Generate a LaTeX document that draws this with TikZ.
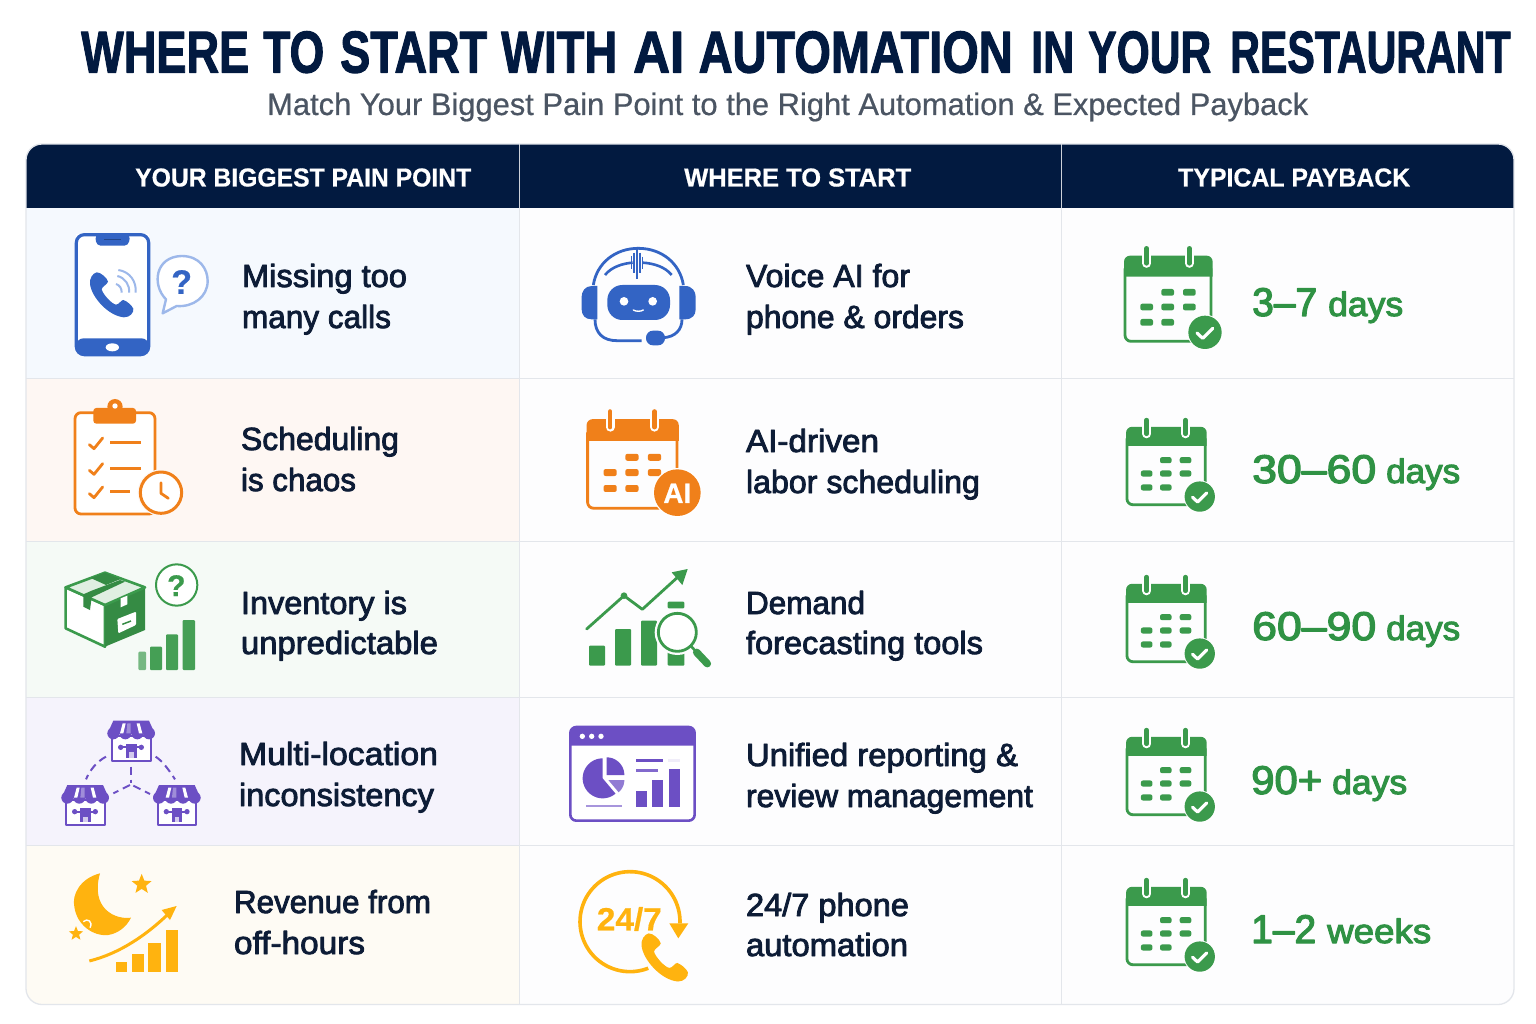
\documentclass[tikz,border=0pt]{standalone}
\usepackage{graphicx}
\usepackage{fontspec}
\usetikzlibrary{shapes.geometric}
\setmainfont{Liberation Sans}
\newfontfamily\subf[FakeBold=0.6]{Liberation Sans}
\newfontfamily\bodyf[FakeBold=2.6]{Liberation Sans}
\newfontfamily\numf[FakeBold=3]{Liberation Sans}
\newfontfamily\headf[FakeBold=0.6]{Liberation Sans Bold}
\newfontfamily\titlef[FakeBold=2]{Liberation Sans Bold}
\definecolor{navy}{HTML}{021A40}
\definecolor{ink}{HTML}{0D1C36}
\definecolor{subgray}{HTML}{4B5563}
\definecolor{rule}{HTML}{E3E6EB}
\definecolor{cellbg}{HTML}{FDFDFE}
\definecolor{rowa}{HTML}{F5F9FE}
\definecolor{rowb}{HTML}{FEF7F3}
\definecolor{rowc}{HTML}{F5FAF6}
\definecolor{rowd}{HTML}{F5F3FC}
\definecolor{rowe}{HTML}{FEFBF4}
\definecolor{cblue}{HTML}{3364C4}
\definecolor{cbluel}{HTML}{9DB8EA}
\definecolor{corange}{HTML}{F0801A}
\definecolor{cgreen}{HTML}{3B9A4C}
\definecolor{tgreen}{HTML}{2F9244}
\definecolor{cpurple}{HTML}{6C4FC4}
\definecolor{cyellow}{HTML}{FFB30F}
\tikzset{
  txt/.style={anchor=base west,inner sep=0pt,outer sep=0pt,font=\bodyf\fontsize{32}{32}\selectfont,text=ink},
  headtxt/.style={anchor=base west,inner sep=0pt,font=\headf\fontsize{26}{26}\selectfont,text=white},
  numtxt/.style={anchor=base west,inner sep=0pt,font=\numf\fontsize{40}{40}\selectfont,text=tgreen},
  unittxt/.style={anchor=base west,inner sep=0pt,font=\numf\fontsize{34}{34}\selectfont,text=tgreen},
  tablerule/.style={draw=rule,line width=1.3pt},
  shopdash/.style={cpurple,line width=2pt,dash pattern=on 8pt off 5pt},
}
\newcommand{\fitw}[2]{\resizebox{#1pt}{\height}{#2}}
\newcommand{\tword}[3]{\fitw{#1}{#2}\hspace*{#3pt}}
\newcommand{\rowtext}[5]{\node[txt] (#1) at (#2,#3) {\fitw{#4}{#5}};}
\newcommand{\pay}[8]{%
  \node[numtxt] (#1n) at (#2,#3) {\fitw{#4}{#5}};
  \node[unittxt] (#1u) at (#6,#3) {\fitw{#7}{#8}};}
% handset, in the coordinates of the phone icon
\newcommand{\handset}[1]{%
  \fill[#1] (200,187) .. controls (188,190) and (178,205) .. (180,222)
    .. controls (185,262) and (235,318) .. (282,322)
    .. controls (300,322) and (312,308) .. (310,296)
    .. controls (305,285) and (290,273) .. (280,270)
    .. controls (272,270) and (268,284) .. (258,284)
    .. controls (245,282) and (218,252) .. (215,238)
    .. controls (215,230) and (232,224) .. (234,215)
    .. controls (232,205) and (212,186) .. (200,187) -- cycle;}
% calendar, in the coordinates of the first green calendar
\newcommand{\calbody}[1]{%
  \fill[cellbg,rounded corners=6pt] (42,62) rectangle (306,322);
  \draw[#1,line width=2.8pt,rounded corners=6pt] (45,100) -- (45,319) -- (303,319) -- (303,100);
  \fill[#1] (42,125) [rounded corners=6pt] -- (42,62) -- (308,62) [sharp corners] -- (308,125) -- cycle;
  \foreach \rx in {110,238} {
    \draw[white,line width=9pt,line cap=round] (\rx,60) -- (\rx,85);
    \draw[#1,line width=4.6pt,line cap=round] (\rx,40) -- (\rx,85);
  }
  \foreach \cx/\cy in {173/172,238/172,110/216,173/216,238/216,110/262,173/262} {
    \fill[#1,rounded corners=2pt] (\cx-19,\cy-10) rectangle (\cx+19,\cy+10);
  }}
\newcommand{\calcheck}{%
  \fill[white] (285,292) circle[radius=53];
  \fill[cgreen] (285,292) circle[radius=50];
  \draw[white,line width=3.2pt,line cap=round,line join=round] (261,294) -- (278,310) -- (308,280);}
\newcommand{\greencal}[3]{\begin{scope}[shift={(#1,#2)},scale=#3/3]\calbody{cgreen}\calcheck\end{scope}}
% storefront, local size 143 x 121
\newcommand{\storeicon}[2]{%
  \begin{scope}[shift={(#1,#2)}]
    \draw[cpurple,line width=2.3pt,fill=white] (14,45) rectangle (130,120);
    \fill[cpurple] (18,0) -- (125,0) -- (143,40) -- (0,40) -- cycle;
    \foreach \lx/\lw in {18/18,54/18,90/18,125/18} {\fill[cpurple] (\lx,38) circle[radius=\lw];}
    \fill[white] (46,8) -- (55,8) -- (48,38) -- (38,38) -- cycle;
    \fill[white] (88,8) -- (97,8) -- (105,38) -- (95,38) -- cycle;
    \fill[white!35!cpurple] (60,8) -- (70,8) -- (70,38) -- (57,38) -- cycle;
    \draw[cpurple,line width=2.2pt] (42,80) -- (100,80);
    \fill[cpurple] (40,80) circle[radius=8] (102,80) circle[radius=8];
    \fill[cpurple] (56,70) rectangle (88,112);
    \fill[white!70!cpurple] (65,95) rectangle (79,112);
  \end{scope}}
\begin{document}
\begin{tikzpicture}[x=1pt,y=-1pt,line join=round]
\useasboundingbox (0,0) rectangle (1536,1024);
\fill[white] (0,0) rectangle (1536,1024);
% ---- titles
\node[anchor=base west,inner sep=0pt,text=navy,font=\titlef\fontsize{59}{59}\selectfont] (title) at (81,72.5)
  {\tword{168}{WHERE}{14}\tword{61}{TO}{16}\tword{147}{START}{14}\tword{116}{WITH}{16}\tword{51}{AI}{14.5}\tword{314}{AUTOMATION}{18.5}\tword{43}{IN}{14}\tword{123}{YOUR}{19}\fitw{280.5}{RESTAURANT}};
\node[anchor=base west,inner sep=0pt,text=subgray,font=\subf\fontsize{31}{31}\selectfont] (subtitle) at (267,115)
  {\fitw{1041}{Match Your Biggest Pain Point to the Right Automation \& Expected Payback}};
% ---- table
\begin{scope}
  \clip[rounded corners=16pt] (26,144) rectangle (1514,1004.5);
  \fill[cellbg] (26,144) rectangle (1514,1005);
  \fill[rowa] (26,208) rectangle (519.5,378);
  \fill[rowb] (26,378) rectangle (519.5,541);
  \fill[rowc] (26,541) rectangle (519.5,697);
  \fill[rowd] (26,697) rectangle (519.5,845);
  \fill[rowe] (26,845) rectangle (519.5,1005);
  \fill[navy] (26,144) rectangle (1514,208);
  \foreach \ry in {378.5,541.5,697.5,845.5} {\draw[tablerule] (26,\ry) -- (1514,\ry);}
  \foreach \cx in {519.5,1061.5} {
    \draw[tablerule] (\cx,208) -- (\cx,1005);
    \draw[white!80!navy,line width=1pt] (\cx,144) -- (\cx,208);
  }
\end{scope}
\draw[tablerule,rounded corners=16pt] (26,144) rectangle (1514,1004.5);
% ---- header text
\node[headtxt] (h1) at (135,186.5) {\fitw{336}{YOUR BIGGEST PAIN POINT}};
\node[headtxt] (h2) at (684,186.5) {\fitw{227}{WHERE TO START}};
\node[headtxt] (h3) at (1178,186.5) {\fitw{232}{TYPICAL PAYBACK}};
% ---- column 1 text
\rowtext{a1}{242}{287}{165}{Missing too}
\rowtext{a2}{242}{328}{149}{many calls}
\rowtext{b1}{241}{450}{158}{Scheduling}
\rowtext{b2}{241}{491}{115}{is chaos}
\rowtext{c1}{241}{614}{166}{Inventory is}
\rowtext{c2}{241}{654}{197}{unpredictable}
\rowtext{d1}{239}{765}{199}{Multi-location}
\rowtext{d2}{239}{806}{195}{inconsistency}
\rowtext{e1}{234}{913}{197}{Revenue from}
\rowtext{e2}{234}{954}{131}{off-hours}
% ---- column 2 text
\rowtext{f1}{746}{287}{164}{Voice AI for}
\rowtext{f2}{746}{328}{218}{phone \& orders}
\rowtext{g1}{746}{452}{133}{AI-driven}
\rowtext{g2}{746}{493}{234}{labor scheduling}
\rowtext{h1b}{746}{614}{119}{Demand}
\rowtext{h2b}{746}{654}{237}{forecasting tools}
\rowtext{i1}{746}{766}{272}{Unified reporting \&}
\rowtext{i2}{746}{807}{287}{review management}
\rowtext{j1}{746}{916}{163}{24/7 phone}
\rowtext{j2}{746}{956}{162}{automation}
% ---- payback
\pay{p1}{1252}{316}{65}{3–7}{1328}{75}{days}
\pay{p2}{1252}{483}{124}{30–60}{1386}{74}{days}
\pay{p3}{1252}{640}{124}{60–90}{1386}{74}{days}
\pay{p4}{1251}{794}{71}{90+}{1332}{75}{days}
\pay{p5}{1251}{943}{65}{1–2}{1327}{104}{weeks}
% ---- green calendars
\greencal{1110}{235}{1}
\greencal{1113.3}{408}{0.91}
\greencal{1113.3}{565}{0.91}
\greencal{1113.3}{718}{0.91}
\greencal{1113.3}{868}{0.91}
% ---- icons of rows 1 and 2, left
\begin{scope}[shift={(30,210)},scale=1/3]
  \fill[white] (138,73) rectangle (357,400);
  \draw[cblue,line width=3.2pt,rounded corners=8pt] (139,74) rectangle (356,434);
  \fill[cblue,rounded corners=7pt] (139,385) -- (139,434) -- (356,434) -- (356,385) -- cycle;
  \fill[white] (247,412) ellipse[x radius=20,y radius=12];
  \fill[cblue,rounded corners=4pt] (195,74) -- (200,107) -- (295,107) -- (301,74) -- cycle;
  \draw[cblue!70!black,line width=1pt] (222,90) -- (272,90);
  \handset{cblue}
  \foreach \wa/\wb/\wc/\wd/\we/\wf/\wg/\wh in {265/180/300/185/320/215/317/248,262/198/285/203/300/225/297/248,258/222/268/225/276/235/275/248}
    {\draw[cbluel,line width=2pt] (\wa,\wb) .. controls (\wc,\wd) and (\we,\wf) .. (\wg,\wh);}
  \draw[cbluel,line width=2.4pt,fill=white] (398,310) -- (408,268) .. controls (365,225) and (375,140) .. (455,138)
     .. controls (510,138) and (533,178) .. (533,213) .. controls (533,260) and (490,292) .. (440,288) -- cycle;
  \node[inner sep=0pt,text=cblue,font=\headf\fontsize{34}{34}\selectfont] (qa) at (455,216) {?};
  % clipboard
  \fill[white] (135,608) rectangle (375,912);
  \draw[corange,line width=2.8pt,rounded corners=6pt] (135,608) rectangle (375,912);
  \fill[corange] (255,590) circle[radius=23];
  \fill[corange,rounded corners=3pt] (190,594) rectangle (318,641);
  \fill[white] (255,588) circle[radius=8];
  \foreach \ly/\lx in {698/332,775/332,845/300} {
    \draw[corange,line width=2.6pt] (240,\ly) -- (\lx,\ly);
    \draw[corange,line width=2.8pt,line cap=round] (178,\ly+6) -- (192,\ly+18) -- (218,\ly-14);
  }
  \fill[rowb] (393,848) circle[radius=70];
  \draw[corange,line width=3pt,fill=white] (393,848) circle[radius=62];
  \draw[corange,line width=2.8pt,line cap=round] (393,818) -- (393,850) -- (415,865);
\end{scope}
% ---- icons of rows 3 to 5, left
\begin{scope}[shift={(30,545)},scale=1/3]
  % box
  \draw[cgreen,line width=2.6pt,fill=white] (107,127) -- (225,180) -- (225,305) -- (107,250) -- cycle;
  \fill[cgreen!90!black] (225,180) -- (345,127) -- (345,255) -- (225,305) -- cycle;
  \draw[cgreen,line width=2.6pt,fill=cgreen!16!white] (225,83) -- (345,127) -- (225,180) -- (107,127) -- cycle;
  \fill[cgreen!90!black] (182,99) -- (225,83) -- (272,102) -- (228,120) -- cycle;
  \fill[cgreen!90!black] (160,148) -- (185,137) -- (270,105) -- (285,110) -- (185,157) -- (180,195) -- (160,185) -- cycle;
  \fill[white] (272,160) -- (292,152) -- (292,178) -- (272,187) -- cycle;
  \fill[white,rounded corners=1pt] (262,222) -- (318,200) -- (318,240) -- (265,265) -- cycle;
  \draw[cgreen!90!black,line width=1.5pt] (277,238) -- (303,228);
  \draw[cgreen,line width=2pt,fill=white] (440,120) circle[radius=62];
  \node[inner sep=0pt,text=cgreen,font=\headf\fontsize{30}{30}\selectfont] (qc) at (439,122) {?};
  \fill[cgreen!70!white,rounded corners=1pt] (325,320) rectangle (348,375);
  \fill[cgreen!95!white,rounded corners=1pt] (360,305) rectangle (396,375);
  \fill[cgreen!95!white,rounded corners=1pt] (408,268) rectangle (444,375);
  \fill[cgreen!95!white,rounded corners=1pt] (458,225) rectangle (495,375);
  % stores
  \storeicon{232}{527}
  \storeicon{94}{720}
  \storeicon{369}{720}
  \draw[shopdash] (228,635) .. controls (200,650) and (180,675) .. (168,703);
  \draw[shopdash] (377,635) .. controls (400,650) and (420,680) .. (435,703);
  \draw[shopdash] (304,665) -- (304,715);
  \draw[shopdash] (300,720) -- (250,745);
  \draw[shopdash] (310,722) -- (360,747);
  % moon
  \fill[cyellow] (210,985) .. controls (150,1000) and (125,1050) .. (133,1085)
     .. controls (140,1140) and (190,1175) .. (235,1170)
     .. controls (265,1165) and (290,1145) .. (303,1118)
     .. controls (255,1125) and (180,1090) .. (210,985) -- cycle;
  \draw[white,line width=1.4pt] (160,1130) .. controls (172,1118) and (190,1130) .. (180,1148);
  \node[star,star points=5,star point ratio=2.3,fill=cyellow,inner sep=0pt,minimum size=21pt] (s1) at (335,1018) {};
  \node[star,star points=5,star point ratio=2.3,fill=cyellow,inner sep=0pt,minimum size=15pt] (s2) at (138,1166) {};
  \draw[cyellow,line width=3pt] (178,1248) .. controls (270,1225) and (350,1170) .. (420,1102);
  \fill[cyellow] (440,1083) -- (395,1095) -- (420,1125) -- cycle;
  \fill[cyellow] (257,1252) rectangle (292,1282);
  \fill[cyellow] (306,1228) rectangle (342,1282);
  \fill[cyellow] (355,1195) rectangle (392,1282);
  \fill[cyellow] (408,1155) rectangle (445,1282);
\end{scope}
% ---- robot and orange calendar
\begin{scope}[shift={(560,230)},scale=1/3]
  \draw[cblue,line width=2.8pt] (100,165) .. controls (110,100) and (165,55) .. (235,55)
     .. controls (305,55) and (360,100) .. (370,165);
  \draw[cblue,line width=2.6pt] (135,135) .. controls (155,110) and (190,100) .. (218,98);
  \draw[cblue,line width=2.6pt] (248,98) .. controls (280,100) and (315,110) .. (335,135);
  \foreach \wx/\wh in {215/20,222/30,231/48,240/30,248/18} {\draw[cblue,line width=1.3pt] (\wx,98-\wh) -- (\wx,98+\wh);}
  \fill[cblue] (112,168) -- (95,168) .. controls (75,168) and (65,185) .. (65,200) -- (65,238)
     .. controls (65,255) and (75,268) .. (95,268) -- (112,268) -- cycle;
  \fill[cblue] (358,168) -- (375,168) .. controls (397,168) and (407,185) .. (407,200) -- (407,238)
     .. controls (407,255) and (397,268) .. (375,268) -- (358,268) -- cycle;
  \draw[cblue,line width=2.8pt] (105,268) .. controls (105,310) and (130,332) .. (170,332) -- (245,332);
  \draw[cblue,line width=2.8pt] (366,268) .. controls (366,300) and (345,320) .. (312,323);
  \fill[cblue,rounded corners=7pt] (258,302) rectangle (315,346);
  \fill[cblue,rounded corners=15pt] (142,165) rectangle (330,270);
  \fill[white] (192,214) circle[radius=13] (278,214) circle[radius=13];
  \draw[white,line width=1.4pt,line cap=round] (220,240) .. controls (228,245) and (242,245) .. (250,240);
  \begin{scope}[shift={(36,503)},scale=1.04]
    \calbody{corange}
  \end{scope}
  \fill[white] (352,788) circle[radius=74];
  \fill[corange] (352,788) circle[radius=70];
  \node[inner sep=0pt,text=white,font=\headf\fontsize{28}{28}\selectfont] (ai) at (352,790) {AI};
\end{scope}
% ---- chart, dashboard, 24/7
\begin{scope}[shift={(560,555)},scale=1/3]
  \fill[cgreen,rounded corners=1pt] (87,272) rectangle (135,332);
  \fill[cgreen,rounded corners=1pt] (165,222) rectangle (213,332);
  \fill[cgreen,rounded corners=1pt] (243,197) rectangle (291,332);
  \fill[cgreen,rounded corners=1pt] (323,140) rectangle (373,160);
  \fill[cgreen,rounded corners=1pt] (323,280) rectangle (373,332);
  \draw[cgreen,line width=2.8pt,line cap=round] (80,222) -- (192,122) -- (247,163) -- (358,62);
  \fill[cgreen] (192,122) circle[radius=10];
  \fill[cgreen] (383,42) -- (335,52) -- (367,90) -- cycle;
  \fill[cellbg] (352,232) circle[radius=68];
  \draw[cgreen,line width=2.8pt,fill=white] (352,232) circle[radius=57];
  \draw[cgreen,line width=2.6pt] (392,272) -- (410,292);
  \draw[cgreen,line width=7.5pt,line cap=round] (410,292) -- (442,326);
  % dashboard
  \draw[cpurple,line width=2.6pt,fill=white,rounded corners=6pt] (31,516) rectangle (404,797);
  \fill[cpurple] (30,572) [rounded corners=6pt] -- (30,515) -- (405,515) [sharp corners] -- (405,572) -- cycle;
  \fill[white] (67,544) circle[radius=8] (95,544) circle[radius=8] (123,544) circle[radius=8];
  \fill[cpurple] (128,670) -- plot[domain=270:50,samples=40] ({128+60*cos(\x)},{670+60*sin(\x)}) -- cycle;
  \fill[cpurple] (140,660) -- plot[domain=270:360,samples=20] ({140+53*cos(\x)},{660+53*sin(\x)}) -- cycle;
  \fill[cpurple!75!white] (145,675) -- plot[domain=0:50,samples=10] ({145+48*cos(\x)},{675+48*sin(\x)}) -- cycle;
  \draw[cpurple,line width=2.6pt] (228,616) -- (310,616);
  \draw[cpurple!85!white,line width=2.4pt] (228,646) -- (295,646);
  \draw[cpurple!10!white,line width=2.4pt] (325,616) -- (360,616);
  \draw[cpurple!60!white,line width=1.8pt] (78,752) -- (185,752);
  \fill[cpurple] (228,708) rectangle (260,755);
  \fill[cpurple] (277,675) rectangle (309,755);
  \fill[cpurple] (327,642) rectangle (359,755);
  % 24/7
  \draw[cyellow,line width=3.6pt] plot[domain=68.6:362,samples=70,smooth] ({210+150*cos(\x)},{1100+150*sin(\x)});
  \fill[cyellow] (328,1105) -- (385,1105) -- (355,1150) -- cycle;
  \node[inner sep=0pt,text=cyellow,font=\headf\fontsize{32}{32}\selectfont] (clock) at (208,1092) {\resizebox{65pt}{\height}{24/7}};
  \begin{scope}[shift={(52,935)},scale=1.07]
    \handset{cyellow}
  \end{scope}
\end{scope}
\end{tikzpicture}
\end{document}
